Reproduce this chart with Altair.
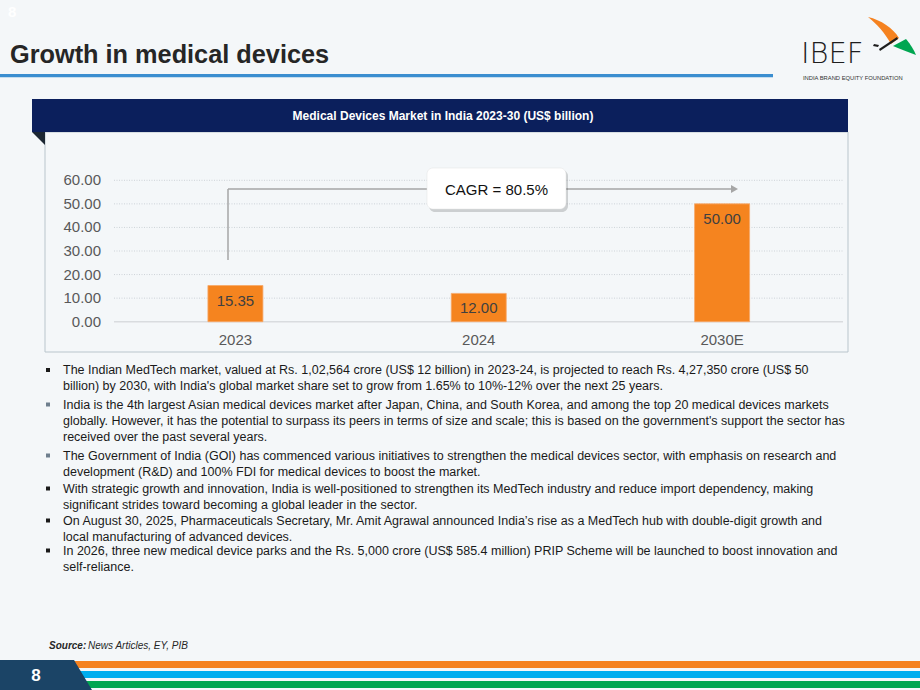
import altair as alt
import pandas as pd

# ---------------- data ----------------
years = ["2023", "2024", "2030E"]
values = [15.35, 12.00, 50.00]
ticks = [0, 10, 20, 30, 40, 50, 60]

page_title = "Growth in medical devices"
chart_title = "Medical Devices Market in India 2023-30 (US$ billion)"
cagr_label = "CAGR = 80.5%"
page_no = "8"
logo_text = "IBEF"
logo_tag = "INDIA BRAND EQUITY FOUNDATION"
source_label = "Source:"
source_text = "News Articles, EY, PIB"

paragraphs = [
    ["The Indian MedTech market, valued at Rs. 1,02,564 crore (US$ 12 billion) in 2023-24, is projected to reach Rs. 4,27,350 crore (US$ 50",
     "billion) by 2030, with India's global market share set to grow from 1.65% to 10%-12% over the next 25 years."],
    ["India is the 4th largest Asian medical devices market after Japan, China, and South Korea, and among the top 20 medical devices markets",
     "globally. However, it has the potential to surpass its peers in terms of size and scale; this is based on the government's support the sector has",
     "received over the past several years."],
    ["The Government of India (GOI) has commenced various initiatives to strengthen the medical devices sector, with emphasis on research and",
     "development (R&D) and 100% FDI for medical devices to boost the market."],
    ["With strategic growth and innovation, India is well-positioned to strengthen its MedTech industry and reduce import dependency, making",
     "significant strides toward becoming a global leader in the sector."],
    ["On August 30, 2025, Pharmaceuticals Secretary, Mr. Amit Agrawal announced India\u2019s rise as a MedTech hub with double-digit growth and",
     "local manufacturing of advanced devices."],
    ["In 2026, three new medical device parks and the Rs. 5,000 crore (US$ 585.4 million) PRIP Scheme will be launched to boost innovation and",
     "self-reliance."],
]

# ---------------- layout / style ----------------
FONT = "Liberation Sans"
BG = "#f4f7f9"
para_baselines = [374, 408.5, 459.5, 492.5, 524.5, 554.5]
bullet_colors = ["#1a1a1a", "#6f7f8e", "#6f7f8e", "#1a1a1a", "#1a1a1a", "#1a1a1a"]

one = pd.DataFrame({"k": [0]})
bars_df = pd.DataFrame({"year": years, "value": values})
ticks_df = pd.DataFrame({"tick": ticks})

xscale = alt.Scale(domain=years, range=[113.75, 843.75], paddingInner=0.774, paddingOuter=0.387)
yscale = alt.Scale(domain=[0, 60], range=[321.7, 180.3])


def rect(x, x2, y, y2, **kw):
    return alt.Chart(one).mark_rect(**kw).encode(
        x=alt.value(x), x2=alt.value(x2), y=alt.value(y), y2=alt.value(y2))


def text(x, y, s, **kw):
    kw.setdefault("font", FONT)
    kw.setdefault("baseline", "alphabetic")
    return alt.Chart(one).mark_text(text=s, **kw).encode(x=alt.value(x), y=alt.value(y))


def shape(path, color, opacity=1):
    return alt.Chart(one).mark_point(
        shape=path, size=4, filled=True, opacity=opacity, color=color, strokeWidth=0
    ).encode(x=alt.value(0), y=alt.value(0))


layers = []

# page header
layers.append(text(8, 17, page_no, fontSize=15, fontWeight="bold", color="#ffffff", align="left"))
layers.append(text(10, 62.7, page_title, fontSize=25.3, fontWeight="bold", color="#262626", align="left"))
layers.append(rect(0, 773, 74, 77.3, color="#3b8ed0"))

# logo
layers.append(text(801, 62.5, logo_text, fontSize=29, color="#1e1e1e", align="left", font="DejaVu Sans", fontWeight=300))
layers.append(text(803, 80, logo_tag, fontSize=5.8, color="#333333", align="left"))
layers.append(shape("M868,17C881,20 893,28 899,38L891,44C885,33 877,24 868,17Z", "#f58220"))
layers.append(shape("M893,46L906,39C911,45 914,50 916,55C908,52 900,49 893,46Z", "#00a651"))
layers.append(shape("M879,49L897,37L898,39L880,51Z", "#1e1e1e"))
layers.append(shape("M874,44L879,45L878,47L873,46Z", "#1e1e1e"))

# chart panel
layers.append(rect(45, 848, 132, 352, fill=BG, stroke="#b9c5cc", strokeWidth=1))
layers.append(rect(32, 848, 99, 132, color="#0b1f5c"))
layers.append(shape("M32,132L45,132L45,145Z", "#1c2733"))
layers.append(text(443, 120.3, chart_title, fontSize=12, fontWeight="bold", color="#ffffff", align="center"))

# grid + baseline
layers.append(
    alt.Chart(ticks_df).transform_filter("datum.tick > 0")
    .mark_rule(color="#cdd3d8", strokeDash=[1, 1.5], strokeWidth=1)
    .encode(y=alt.Y("tick:Q", scale=yscale, axis=None), x=alt.value(114), x2=alt.value(843))
)
layers.append(
    alt.Chart(ticks_df).transform_filter("datum.tick == 0")
    .mark_rule(color="#d9dcdf", strokeWidth=1.5)
    .encode(y=alt.Y("tick:Q", scale=yscale, axis=None), x=alt.value(114), x2=alt.value(843))
)

# y tick labels
layers.append(
    alt.Chart(ticks_df).mark_text(align="right", baseline="middle", fontSize=15, color="#595959", font=FONT)
    .encode(x=alt.value(101), y=alt.Y("tick:Q", scale=yscale, axis=None),
            text=alt.Text("tick:Q", format=".2f"))
)

# bars
layers.append(
    alt.Chart(bars_df).mark_bar(color="#f5841f", stroke="#f8a868", strokeWidth=0.8)
    .encode(x=alt.X("year:N", scale=xscale, axis=None), y=alt.Y("value:Q", scale=yscale, axis=None))
)
layers.append(
    alt.Chart(bars_df).mark_text(dy=15, baseline="middle", fontSize=15, color="#404040", font=FONT)
    .encode(x=alt.X("year:N", scale=xscale, axis=None), y=alt.Y("value:Q", scale=yscale, axis=None),
            text=alt.Text("value:Q", format=".2f"))
)
# x labels
layers.append(
    alt.Chart(bars_df).mark_text(baseline="middle", fontSize=15, color="#595959", font=FONT)
    .encode(x=alt.X("year:N", scale=xscale, axis=None), y=alt.value(340), text="year:N")
)

# CAGR arrow + box
ARROW = "#a6a6a6"
layers.append(alt.Chart(one).mark_rule(color=ARROW, strokeWidth=1.5).encode(
    x=alt.value(228), y=alt.value(189), y2=alt.value(260)))
layers.append(alt.Chart(one).mark_rule(color=ARROW, strokeWidth=1.5).encode(
    x=alt.value(228), x2=alt.value(732), y=alt.value(189)))
layers.append(shape("M731,185L738,189L731,193Z", ARROW))
layers.append(rect(429, 568, 170, 212, color="#000000", opacity=0.16, cornerRadius=6))
layers.append(rect(427, 566, 168, 209, fill="#ffffff", stroke="#e0e0e0", strokeWidth=0.5, cornerRadius=6))
layers.append(text(496.5, 194.5, cagr_label, fontSize=15, color="#111111", align="center"))

# bullets
for i, lines in enumerate(paragraphs):
    b = para_baselines[i]
    layers.append(alt.Chart(one).mark_square(size=16, color=bullet_colors[i], opacity=1).encode(
        x=alt.value(48), y=alt.value(b - 4)))
    layers.append(text(63, b, lines, fontSize=12.5, color="#1a1a1a", align="left", lineHeight=16.3))

# source
layers.append(text(49, 648.5, source_label, fontSize=10, fontWeight="bold", fontStyle="italic",
                   color="#262626", align="left"))
layers.append(text(88, 648.5, source_text, fontSize=10, fontStyle="italic", color="#262626", align="left"))

# footer stripes
layers.append(rect(60, 920, 661, 668, color="#f58220"))
layers.append(rect(60, 920, 671, 678, color="#00aeef"))
layers.append(rect(60, 920, 681, 688, color="#00a651"))
layers.append(shape("M0,660L74,660L92,690L0,690Z", "#1b4466"))
layers.append(text(36, 681, page_no, fontSize=17, fontWeight="bold", color="#ffffff", align="center"))

chart = alt.layer(*layers).properties(
    width=920, height=690, background=BG, padding=0, autosize="none"
).configure_view(stroke=None)

chart.save("out.html", embed_options={"renderer": "svg", "actions": False})
